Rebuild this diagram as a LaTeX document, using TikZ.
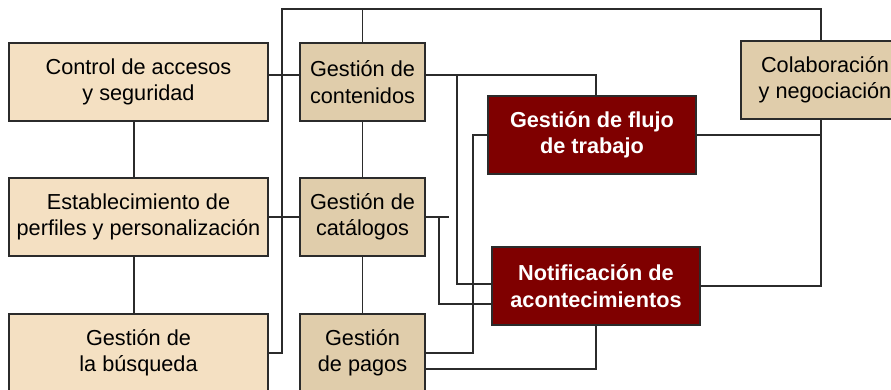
\documentclass[tikz,border=0pt]{standalone}
\usepackage{fontspec}
\setmainfont{Liberation Sans}
\definecolor{lightbox}{HTML}{F4E0C2}
\definecolor{midbox}{HTML}{E0CDAB}
\definecolor{darkbox}{HTML}{7F0000}
\definecolor{edge}{HTML}{2B2B2B}
\begin{document}
\begin{tikzpicture}[x=1pt,y=-1pt,
  base/.style={draw=edge,line width=1.8pt,rectangle,inner sep=0pt,align=center,
    minimum height=78pt,font=\fontsize{21.7}{26.5}\selectfont},
  lbox/.style={base,fill=lightbox,minimum width=259pt},
  mbox/.style={base,fill=midbox,minimum width=125pt},
  dbox/.style={base,fill=darkbox,minimum width=208pt,text=white,
    font=\fontsize{21.7}{26.5}\selectfont\bfseries},
  conn/.style={draw=edge,line width=1.8pt}]
\useasboundingbox (0,0) rectangle (891,390);
\clip (0,0) rectangle (891,390);
% nodes
\node[lbox] (ctrl) at (138.5,82) {Control de accesos\\y seguridad};
\node[lbox] (estab) at (138.5,217) {Establecimiento de\\perfiles y personalización};
\node[lbox] (busq) at (138.5,353) {Gestión de\\la búsqueda};
\node[mbox] (cont) at (362.5,82) {Gestión de\\contenidos};
\node[mbox] (cat) at (362.5,217) {Gestión de\\catálogos};
\node[mbox] (pagos) at (362.5,353) {Gestión\\de pagos};
\node[dbox] (flujo) at (592,135) {Gestión de flujo\\de trabajo};
\node[dbox] (notif) at (596,286) {Notificación de\\acontecimientos};
\node[mbox,minimum width=168pt] (colab) at (825,80) {Colaboración\\y negociación};
% coordinates
\coordinate (tl) at (282,9);
\coordinate (tr) at (821,9);
\coordinate (bb) at (282,353);
\coordinate (c1) at (596,75);
\coordinate (c2) at (457,75);
\coordinate (f1) at (473,353);
\coordinate (k1) at (449,217);
\coordinate (k2) at (439,217);
% connectors
\draw[conn] (busq.east |- bb) -- (bb) -- (tl) -- (tr) -- (tr |- colab.north);
\draw[conn] (cont.north) -- (cont.north |- tl);
\draw[conn] (ctrl.east |- c1) -- (cont.west |- c1);
\draw[conn] (estab.east) -- (cat.west);
\draw[conn] (ctrl.south -| 134,0) -- (estab.north -| 134,0);
\draw[conn] (estab.south -| 134,0) -- (busq.north -| 134,0);
\draw[conn] (cont.south) -- (cat.north);
\draw[conn] (cat.south) -- (pagos.north);
\draw[conn] (cont.east |- c1) -- (c1) -- (c1 |- flujo.north);
\draw[conn] (c2) |- (notif.west |- 0,284);
\draw[conn] (flujo.west) -| (f1) -- (pagos.east |- f1);
\draw[conn] (cat.east) -- (k1);
\draw[conn] (k2) |- (notif.west |- 0,304);
\draw[conn] (pagos.east |- 0,369) -| (notif.south);
\draw[conn] (flujo.east) -- (flujo.east -| tr);
\draw[conn] (colab.south -| tr) |- (notif.east);
\end{tikzpicture}
\end{document}
